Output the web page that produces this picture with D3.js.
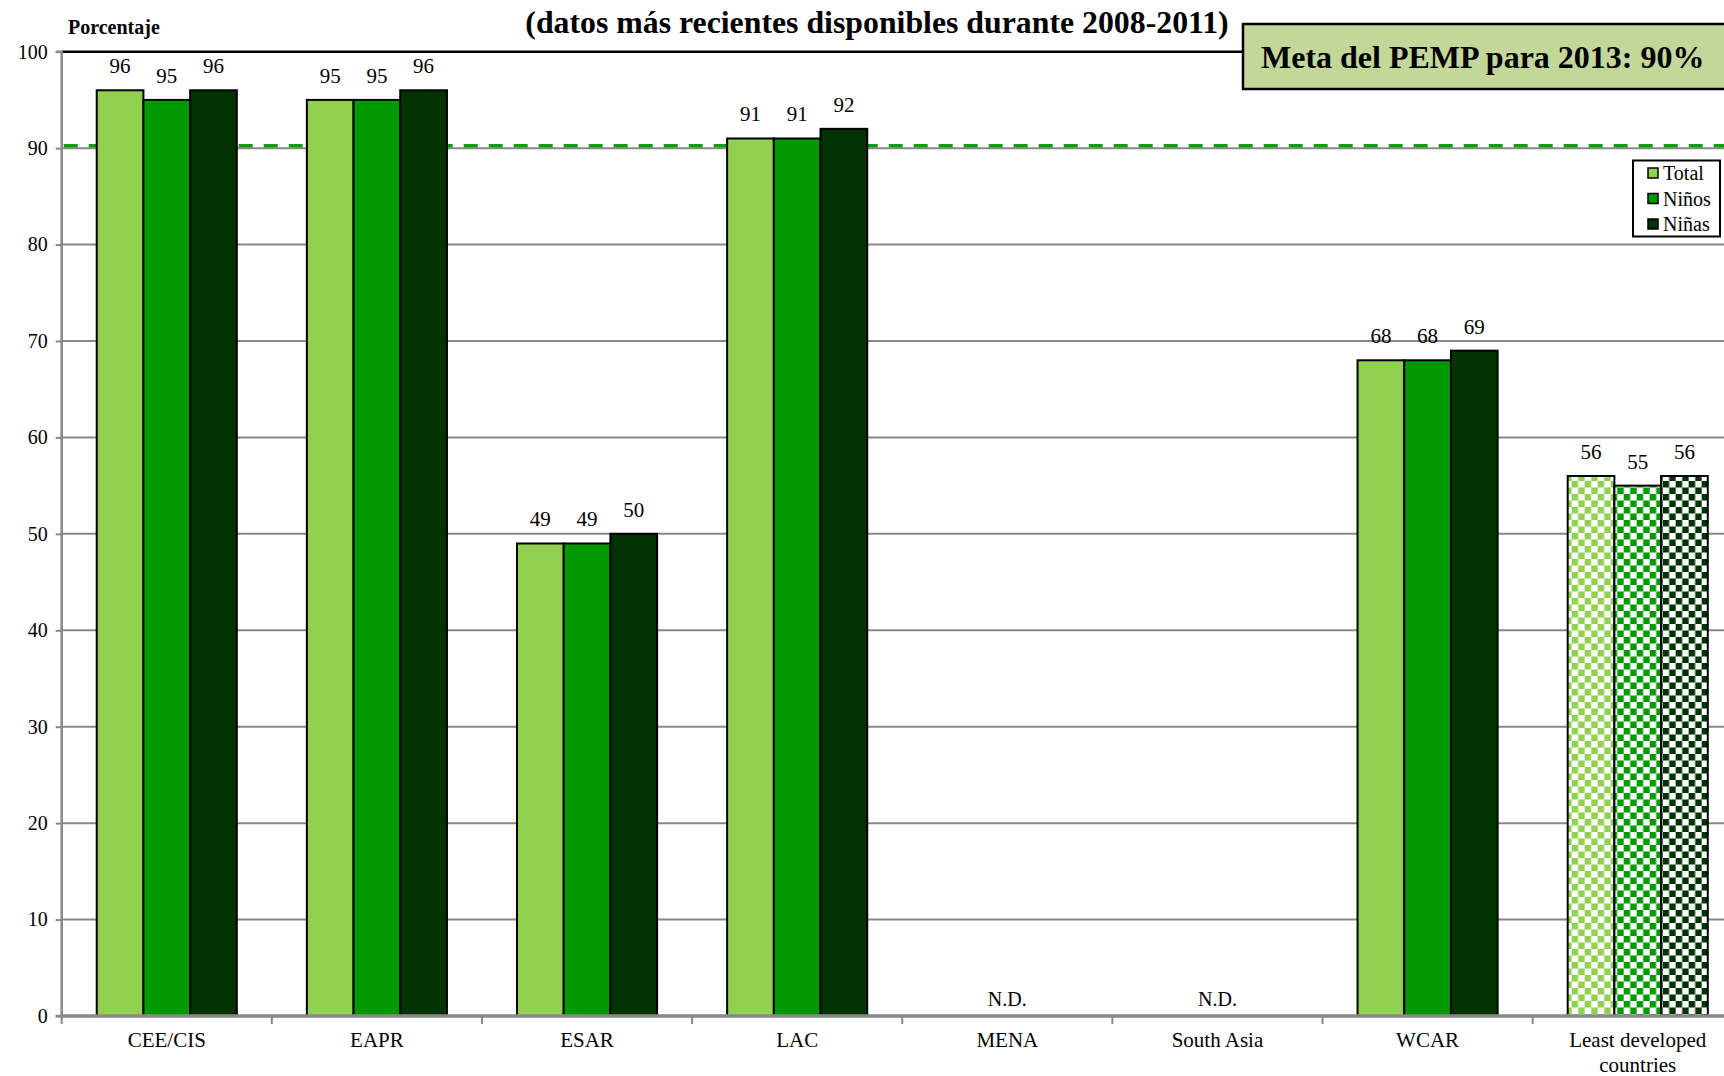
<!DOCTYPE html>
<html>
<head>
<meta charset="utf-8">
<script src="https://cdn.jsdelivr.net/npm/d3@7"></script>
<style>
  html, body { margin: 0; padding: 0; background: #fff; overflow: hidden; }
  svg { display: block; font-family: "Liberation Serif", "Times New Roman", serif; }
</style>
</head>
<body>
<svg id="chart" width="1724" height="1076"></svg>
<script>
// ---- data ----
const categories = ["CEE/CIS", "EAPR", "ESAR", "LAC", "MENA", "South Asia", "WCAR", "Least developed countries"];
const seriesNames = ["Total", "Niños", "Niñas"];
const totalValues = [96, 95, 49, 91, null, null, 68, 56];
const ninosValues = [95, 95, 49, 91, null, null, 68, 55];
const ninasValues = [96, 96, 50, 92, null, null, 69, 56];
const patternedCategories = ["Least developed countries"];
const yTicks = [0, 10, 20, 30, 40, 50, 60, 70, 80, 90, 100];
const targetValue = 90;
const missingLabel = "N.D.";
const titleText = "(datos más recientes disponibles durante 2008-2011)";
const yAxisTitle = "Porcentaje";
const targetText = "Meta del PEMP para 2013: 90%";
const colors = ["#92D050", "#009900", "#003300"];

const seriesValues = [totalValues, ninosValues, ninasValues];

(function () {
// ---- layout ----
const svg = d3.select("#chart");
const mLeft = 61.7, mTop = 51.7, mBottom = 1016, mRight = 1742.8;

const x = d3.scaleBand().domain(categories).range([mLeft, mRight]).padding(0);
const xs = d3.scaleBand().domain(seriesNames).range([0, x.bandwidth()]).paddingInner(0).paddingOuter(0.75);
const y = d3.scaleLinear().domain([0, 100]).range([mBottom, mTop]);

// patterns
const defs = svg.append("defs");
const P = 13, h = P / 2;
colors.forEach((c, i) => {
  const p = defs.append("pattern").attr("id", "chk" + i)
    .attr("patternUnits", "userSpaceOnUse").attr("width", P).attr("height", P);
  p.append("rect").attr("width", P).attr("height", P).attr("fill", "#fff");
  p.append("rect").attr("x", 0).attr("y", 0).attr("width", h).attr("height", h).attr("fill", c);
  p.append("rect").attr("x", h).attr("y", h).attr("width", h).attr("height", h).attr("fill", c);
});

// gridlines
svg.append("g").selectAll("line").data(yTicks.filter(t => t > 0 && t < 100)).join("line")
  .attr("x1", mLeft).attr("x2", 1724)
  .attr("y1", d => y(d)).attr("y2", d => y(d))
  .attr("stroke", "#888").attr("stroke-width", 2);

// top border
svg.append("line").attr("x1", mLeft).attr("x2", 1724).attr("y1", y(100)).attr("y2", y(100))
  .attr("stroke", "#000").attr("stroke-width", 2.5);

// target dashed line
svg.append("line").attr("x1", mLeft + 2).attr("x2", 1724)
  .attr("y1", y(targetValue) - 2.5).attr("y2", y(targetValue) - 2.5)
  .attr("stroke", "#149c14").attr("stroke-width", 3.5).attr("stroke-dasharray", "14,11");

// y axis
const yAxis = d3.axisLeft(y).tickValues(yTicks).tickSize(6).tickPadding(8).tickFormat(d3.format("d"));
const gy = svg.append("g").attr("transform", `translate(${mLeft},0)`).call(yAxis);
gy.select(".domain").attr("stroke", "#888").attr("stroke-width", 2.5).attr("d", `M-6,${y(100)}H0V${mBottom}H-6`);
gy.selectAll(".tick line").attr("stroke", "#888").attr("stroke-width", 2);
gy.selectAll(".tick text").attr("font-size", 20).attr("fill", "#000")
  .attr("font-family", "Liberation Serif");

// bars
const groups = svg.append("g").selectAll("g").data(categories).join("g")
  .attr("transform", d => `translate(${x(d)},0)`);

groups.each(function(cat, ci) {
  const g = d3.select(this);
  const patterned = patternedCategories.includes(cat);
  seriesNames.forEach((s, si) => {
    const v = seriesValues[si][ci];
    if (v == null) return;
    g.append("rect")
      .attr("x", xs(s)).attr("width", xs.bandwidth())
      .attr("y", y(v)).attr("height", y(0) - y(v))
      .attr("fill", patterned ? `url(#chk${si})` : colors[si])
      .attr("stroke", "#000").attr("stroke-width", 2);
    g.append("text")
      .attr("x", xs(s) + xs.bandwidth() / 2).attr("y", y(v) - 17)
      .attr("text-anchor", "middle").attr("font-size", 21).text(v);
  });
  if (seriesValues.every(arr => arr[ci] == null)) {
    g.append("text").attr("x", x.bandwidth() / 2).attr("y", y(0) - 10)
      .attr("text-anchor", "middle").attr("font-size", 20).text(missingLabel);
  }
});

// x axis
const xAxis = d3.axisBottom(x).tickSize(0).tickFormat("");
const gx = svg.append("g").attr("transform", `translate(0,${mBottom})`).call(xAxis);
gx.select(".domain").attr("stroke", "#888").attr("stroke-width", 3.5).attr("d", `M${mLeft},0H${mRight}`);
gx.selectAll(".tick").remove();
gx.selectAll("line.bt").data(categories).join("line").attr("class", "bt")
  .attr("x1", d => x(d)).attr("x2", d => x(d)).attr("y1", 0).attr("y2", 8)
  .attr("stroke", "#888").attr("stroke-width", 2);

// category labels (wrapped)
const catLabels = svg.append("g").selectAll("text").data(categories).join("text")
  .attr("x", d => x(d) + x.bandwidth() / 2).attr("y", 1047)
  .attr("text-anchor", "middle").attr("font-size", 21);
catLabels.each(function(d) {
  const t = d3.select(this);
  const words = d.split(" ");
  const maxW = 150;
  let lines = [], line = [];
  const tmp = t.append("tspan");
  words.forEach(w => {
    line.push(w);
    tmp.text(line.join(" "));
    if (tmp.node().getComputedTextLength() > maxW && line.length > 1) {
      line.pop(); lines.push(line.join(" ")); line = [w];
    }
  });
  lines.push(line.join(" "));
  tmp.remove();
  lines.forEach((l, i) => {
    t.append("tspan").attr("x", x(d) + x.bandwidth() / 2).attr("dy", i === 0 ? 0 : 25).text(l);
  });
});

// title and axis title
svg.append("text").attr("x", 877).attr("y", 33).attr("text-anchor", "middle")
  .attr("font-size", 31.8).attr("font-weight", "bold").text(titleText);
svg.append("text").attr("x", 68).attr("y", 34)
  .attr("font-size", 20).attr("font-weight", "bold").text(yAxisTitle);

// target box
svg.append("rect").attr("x", 1243).attr("y", 24).attr("width", 520).attr("height", 65)
  .attr("fill", "#C4D79B").attr("stroke", "#000").attr("stroke-width", 2.5);
svg.append("text").attr("x", 1261).attr("y", 68).attr("font-size", 32).attr("font-weight", "bold")
  .text(targetText);

// legend
const lg = svg.append("g");
lg.append("rect").attr("x", 1633).attr("y", 160.5).attr("width", 87).attr("height", 76)
  .attr("fill", "#fff").attr("stroke", "#000").attr("stroke-width", 2);
seriesNames.forEach((s, i) => {
  const yy = 180 + i * 25.5;
  lg.append("rect").attr("x", 1648).attr("y", yy - 12).attr("width", 10).attr("height", 10)
    .attr("fill", colors[i]).attr("stroke", "#000").attr("stroke-width", 1.5);
  lg.append("text").attr("x", 1663).attr("y", yy).attr("font-size", 20).text(s);
});
})();
</script>
</body>
</html>
